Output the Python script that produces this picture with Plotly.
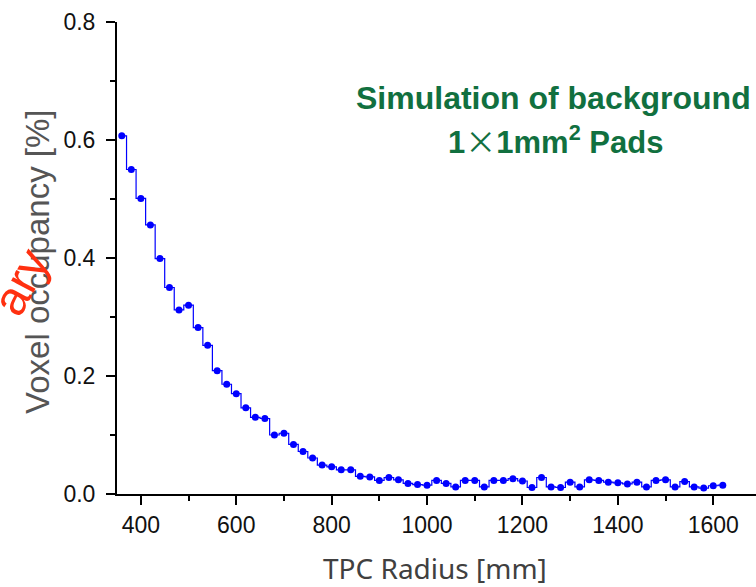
import plotly.graph_objects as go

# Bin centres (mm) and occupancy values (%)
radius = [360, 380, 400, 420, 440, 460, 480, 500, 520, 540,
          560, 580, 600, 620, 640, 660, 680, 700, 720, 740,
          760, 780, 800, 820, 840, 860, 880, 900, 920, 940,
          960, 980, 1000, 1020, 1040, 1060, 1080, 1100, 1120, 1140,
          1160, 1180, 1200, 1220, 1240, 1260, 1280, 1300, 1320, 1340,
          1360, 1380, 1400, 1420, 1440, 1460, 1480, 1500, 1520, 1540,
          1560, 1580, 1600, 1620]
occupancy = [0.607, 0.550, 0.501, 0.456, 0.399, 0.350, 0.312, 0.320, 0.282, 0.252,
             0.209, 0.186, 0.170, 0.146, 0.130, 0.128, 0.100, 0.103, 0.084, 0.072,
             0.061, 0.049, 0.046, 0.041, 0.041, 0.030, 0.029, 0.023, 0.028, 0.024,
             0.018, 0.016, 0.015, 0.023, 0.018, 0.012, 0.023, 0.023, 0.012, 0.023,
             0.023, 0.026, 0.022, 0.011, 0.028, 0.012, 0.011, 0.020, 0.012, 0.024,
             0.023, 0.020, 0.019, 0.017, 0.020, 0.012, 0.023, 0.024, 0.012, 0.021,
             0.012, 0.010, 0.014, 0.015]

x_ticks = [400, 600, 800, 1000, 1200, 1400, 1600]
y_ticks = [0.0, 0.2, 0.4, 0.6, 0.8]
y_ticklabels = ["0.0", "0.2", "0.4", "0.6", "0.8"]

W, H = 756, 587
L, R, T, B = 117, 0, 22, 93
pw = W - L - R
ph = H - T - B

def px(xp):
    return (xp - L) / pw

def py(yp):
    return (H - B - yp) / ph

fig = go.Figure()
fig.add_trace(go.Scatter(
    x=radius, y=occupancy, mode="lines+markers",
    line=dict(shape="hvh", color="#0000FF", width=1.2),
    marker=dict(color="#0000FF", size=7),
    showlegend=False, cliponaxis=False,
))

axis_common = dict(
    showline=True, linecolor="black", linewidth=2,
    ticks="outside", ticklen=9, tickwidth=2, tickcolor="black",
    showgrid=False, zeroline=False,
    tickfont=dict(family="Liberation Sans, Arial", size=23, color="#111111"),
)

fig.update_xaxes(
    range=[350, 350 + pw / 0.477], tickvals=x_ticks,
    minor=dict(dtick=100, tick0=0, ticks="outside", ticklen=5, tickwidth=2, tickcolor="black"),
    ticklabelstandoff=0,
    **axis_common,
)
fig.update_yaxes(
    range=[0, 0.8], tickvals=y_ticks, ticktext=y_ticklabels,
    minor=dict(dtick=0.1, tick0=0, ticks="outside", ticklen=5, tickwidth=2, tickcolor="black"),
    ticklabelstandoff=6,
    **axis_common,
)

annotations = [
    dict(text="Simulation of background", x=px(553), y=py(98), xref="paper", yref="paper",
         showarrow=False, xanchor="center", yanchor="middle",
         font=dict(family="Liberation Sans, Arial", size=32, color="#11703F", weight="bold")),
    dict(text="1<span style='font-family:Noto Sans CJK SC;font-weight:normal'>×</span>1mm<sup>2</sup> Pads",
         x=px(555), y=py(139), xref="paper", yref="paper",
         showarrow=False, xanchor="center", yanchor="middle",
         font=dict(family="Liberation Sans, Arial", size=31, color="#11703F", weight="bold")),
    dict(text="Voxel occupancy [%]", x=px(37), y=py(262), xref="paper", yref="paper",
         showarrow=False, xanchor="center", yanchor="middle", textangle=-90,
         font=dict(family="Liberation Sans, Arial", size=33, color="#555555")),
    dict(text="TPC Radius [mm]", x=px(435), y=py(568), xref="paper", yref="paper",
         showarrow=False, xanchor="center", yanchor="middle",
         font=dict(family="Noto Sans", size=28, color="#404040")),
    dict(text="ary", x=px(20), y=py(282), xref="paper", yref="paper",
         showarrow=False, xanchor="center", yanchor="middle", textangle=-62,
         font=dict(family="Liberation Sans, Arial", size=48, color="#FF3010")),
]

fig.update_layout(
    width=W, height=H,
    margin=dict(l=L, r=R, t=T, b=B, pad=0),
    paper_bgcolor="white", plot_bgcolor="white",
    annotations=annotations,
)

fig.write_html("out.html")
